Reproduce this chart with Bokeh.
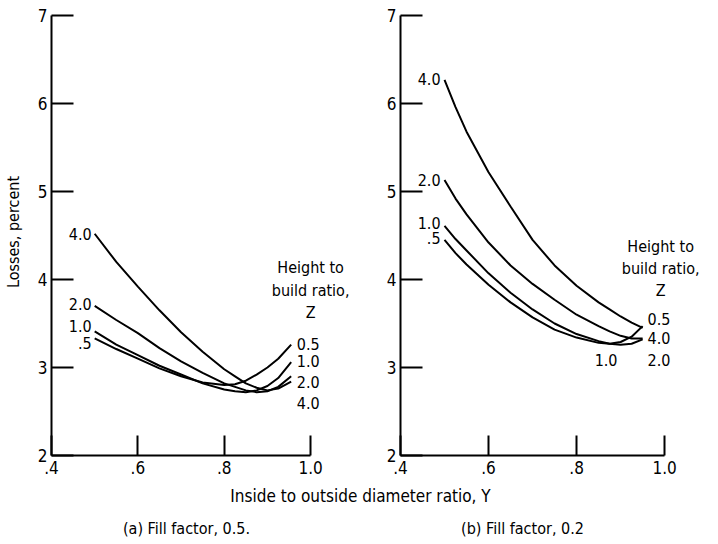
from bokeh.plotting import figure
from bokeh.models import Range1d, FixedTicker, Label
from bokeh.layouts import column, row
from bokeh.embed import file_html
from bokeh.resources import INLINE

FONT = "DejaVu Sans Condensed"

# ---------------- data ----------------
y_ticks = [2, 3, 4, 5, 6, 7]
y_tick_labels = ["2", "3", "4", "5", "6", "7"]
x_ticks = [0.4, 0.6, 0.8, 1.0]
x_tick_labels = [".4", ".6", ".8", "1.0"]
z_left_labels = [".5", "1.0", "2.0", "4.0"]
z_right_labels = ["0.5", "1.0", "2.0", "4.0"]

# Panel (a) Fill factor 0.5
a_x = [0.5, 0.55, 0.6, 0.65, 0.7, 0.75, 0.8, 0.825, 0.85, 0.875, 0.9, 0.925, 0.955]
a_z05 = [3.33, 3.21, 3.10, 2.99, 2.90, 2.83, 2.80, 2.81, 2.85, 2.92, 3.00, 3.10, 3.26]
a_z10 = [3.41, 3.26, 3.14, 3.02, 2.92, 2.82, 2.75, 2.73, 2.72, 2.74, 2.79, 2.88, 3.06]
a_z20 = [3.70, 3.54, 3.39, 3.22, 3.07, 2.94, 2.82, 2.78, 2.74, 2.72, 2.73, 2.78, 2.90]
a_z40 = [4.52, 4.20, 3.92, 3.65, 3.40, 3.18, 2.98, 2.90, 2.82, 2.77, 2.74, 2.76, 2.84]

# Panel (b) Fill factor 0.2
b_x = [0.5, 0.525, 0.55, 0.6, 0.65, 0.7, 0.75, 0.8, 0.85, 0.875, 0.9, 0.925, 0.95]
b_z05 = [4.45, 4.30, 4.17, 3.94, 3.74, 3.57, 3.43, 3.34, 3.28, 3.27, 3.29, 3.35, 3.47]
b_z10 = [4.61, 4.46, 4.33, 4.07, 3.85, 3.66, 3.50, 3.38, 3.30, 3.27, 3.26, 3.27, 3.32]
b_z20 = [5.13, 4.92, 4.74, 4.42, 4.16, 3.95, 3.77, 3.60, 3.47, 3.41, 3.36, 3.33, 3.33]
b_z40 = [6.27, 5.96, 5.68, 5.22, 4.83, 4.45, 4.16, 3.93, 3.74, 3.66, 3.58, 3.51, 3.45]

legend_title = ["Height to", "build ratio,", "Z"]
x_title = "Inside to outside diameter ratio, Y"
y_title = "Losses, percent"
captions = ["(a) Fill factor, 0.5.", "(b) Fill factor, 0.2"]


def make_panel(width, border_left, x_end, ylabel):
    p = figure(width=width, height=483,
               x_range=Range1d(0.4, x_end), y_range=Range1d(2, 7.08),
               output_backend="svg", toolbar_location=None,
               min_border_left=border_left, min_border_right=0,
               min_border_top=8, min_border_bottom=28)
    p.grid.visible = False
    p.outline_line_color = None
    p.background_fill_color = "white"
    p.border_fill_color = "white"

    xa = p.xaxis[0]
    xa.ticker = FixedTicker(ticks=x_ticks)
    xa.major_label_overrides = {t: l for t, l in zip(x_ticks, x_tick_labels)}
    xa.bounds = (0.4, 1.0)
    xa.major_tick_in = 20
    xa.major_tick_out = 0
    xa.minor_tick_line_color = None
    xa.axis_line_width = 2
    xa.major_tick_line_width = 2
    xa.axis_line_color = "black"
    xa.major_tick_line_color = "black"
    xa.major_label_text_font = FONT
    xa.major_label_text_font_size = "17px"
    xa.major_label_text_color = "black"
    xa.major_label_standoff = 5

    ya = p.yaxis[0]
    ya.ticker = FixedTicker(ticks=y_ticks)
    ya.major_label_overrides = {t: l for t, l in zip(y_ticks, y_tick_labels)}
    ya.bounds = (2, 7)
    ya.major_tick_in = 22
    ya.major_tick_out = 0
    ya.minor_tick_line_color = None
    ya.axis_line_width = 2
    ya.major_tick_line_width = 2
    ya.axis_line_color = "black"
    ya.major_tick_line_color = "black"
    ya.major_label_text_font = FONT
    ya.major_label_text_font_size = "17px"
    ya.major_label_text_color = "black"
    ya.major_label_standoff = 4
    if ylabel:
        ya.axis_label = ylabel
        ya.axis_label_text_font = FONT
        ya.axis_label_text_font_size = "16px"
        ya.axis_label_text_font_style = "normal"
        ya.axis_label_text_color = "black"
        ya.axis_label_standoff = 12
    return p


def add_text(p, x, y, text, align="left", size="16px"):
    p.add_layout(Label(x=x, y=y, text=text, text_font=FONT, text_font_size=size,
                       text_color="black", text_align=align, text_baseline="middle"))


# ---------- panel a ----------
pa = make_panel(352, 44, 1.097, y_title)
for ys in (a_z05, a_z10, a_z20, a_z40):
    pa.line(a_x, ys, line_color="black", line_width=2)
left_dy_a = [-0.05, 0.06, 0.02, 0.0]
for lab, ys, dy in zip(z_left_labels, (a_z05, a_z10, a_z20, a_z40), left_dy_a):
    add_text(pa, a_x[0] - 0.007, ys[0] + dy, lab, "right")
for lab, yy in zip(z_right_labels, [3.27, 3.07, 2.84, 2.60]):
    add_text(pa, 0.968, yy, lab)
for line, yy in zip(legend_title, [4.14, 3.88, 3.63]):
    add_text(pa, 1.0, yy, line, "center")

# ---------- panel b ----------
pb = make_panel(350, 48, 1.086, None)
for ys in (b_z05, b_z10, b_z20, b_z40):
    pb.line(b_x, ys, line_color="black", line_width=2)
left_dy_b = [0.02, 0.03, 0.0, 0.01]
for lab, ys, dy in zip(z_left_labels, (b_z05, b_z10, b_z20, b_z40), left_dy_b):
    add_text(pb, b_x[0] - 0.009, ys[0] + dy, lab, "right")
right_b = [("0.5", 0.961, 3.55), ("4.0", 0.961, 3.34), ("2.0", 0.961, 3.09), ("1.0", 0.841, 3.09)]
for lab, xx, yy in right_b:
    add_text(pb, xx, yy, lab)
for line, yy in zip(legend_title, [4.38, 4.13, 3.88]):
    add_text(pb, 0.991, yy, line, "center")

# ---------- captions ----------
pc = figure(width=702, height=56, x_range=Range1d(0, 702), y_range=Range1d(0, 56),
            output_backend="svg", toolbar_location=None,
            min_border_left=0, min_border_right=0, min_border_top=0, min_border_bottom=0)
pc.axis.visible = False
pc.grid.visible = False
pc.outline_line_color = None
pc.add_layout(Label(x=360, y=44, text=x_title, text_font=FONT, text_font_size="17px",
                    text_color="black", text_align="center", text_baseline="middle"))
pc.add_layout(Label(x=186, y=11, text=captions[0], text_font=FONT, text_font_size="16px",
                    text_color="black", text_align="center", text_baseline="middle"))
pc.add_layout(Label(x=522, y=11, text=captions[1], text_font=FONT, text_font_size="16px",
                    text_color="black", text_align="center", text_baseline="middle"))

layout = column(row(pa, pb), pc)
open("out.html", "w").write(file_html(layout, INLINE))
